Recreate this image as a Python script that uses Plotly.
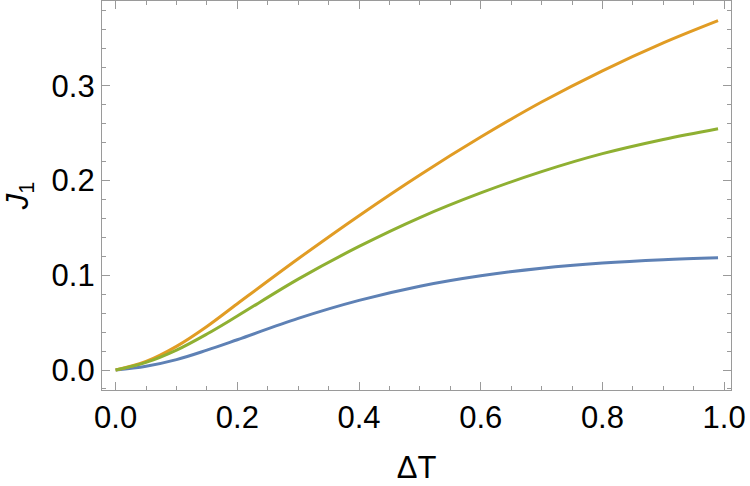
import plotly.graph_objects as go

# Data
x_vals = [0.0, 0.05, 0.1, 0.15, 0.2, 0.3, 0.4, 0.5, 0.6, 0.7, 0.8, 0.9, 0.99]
blue_vals = [0.0, 0.004, 0.011, 0.021, 0.032, 0.0545, 0.0735, 0.0885, 0.0995, 0.1075,
             0.1130, 0.1165, 0.1185]
orange_vals = [0.0, 0.009, 0.025, 0.046, 0.070, 0.1175, 0.163, 0.206, 0.246, 0.283,
               0.316, 0.3455, 0.369]
green_vals = [0.0, 0.008, 0.021, 0.038, 0.057, 0.096, 0.1305, 0.161, 0.187, 0.2095,
              0.2285, 0.2435, 0.2548]

x_ticks = [0.0, 0.2, 0.4, 0.6, 0.8, 1.0]
x_ticklabels = ["0.0", "0.2", "0.4", "0.6", "0.8", "1.0"]
y_ticks = [0.0, 0.1, 0.2, 0.3]
y_ticklabels = ["0.0", "0.1", "0.2", "0.3"]

BLUE = "#5E81B5"
ORANGE = "#E19C24"
GREEN = "#8FB032"
FRAME = "#9a9a9a"
FONT = "Liberation Sans, Arial, sans-serif"

fig = go.Figure()
for vals, col in [(blue_vals, BLUE), (orange_vals, ORANGE), (green_vals, GREEN)]:
    fig.add_trace(go.Scatter(x=x_vals, y=vals, mode="lines",
                             line=dict(color=col, width=3, shape="spline", smoothing=1.0),
                             showlegend=False, hoverinfo="skip"))

axis_common = dict(
    showgrid=False, zeroline=False, showline=True, linecolor=FRAME, linewidth=1.2,
    mirror="allticks", ticks="inside", ticklen=8, tickcolor=FRAME, tickwidth=1.2,
    tickfont=dict(family=FONT, size=31, color="black"),
)

fig.update_xaxes(
    range=[-0.0224, 1.0113], tickvals=x_ticks, ticktext=x_ticklabels,
    minor=dict(dtick=0.05, tick0=0, ticks="inside", ticklen=4, tickcolor=FRAME, tickwidth=1.2),
    title=dict(text="ΔT", font=dict(family=FONT, size=31, color="black"), standoff=22),
    **axis_common,
)
fig.update_yaxes(
    range=[-0.0211, 0.3897], tickvals=y_ticks, ticktext=y_ticklabels,
    minor=dict(dtick=0.02, tick0=0, ticks="inside", ticklen=4, tickcolor=FRAME, tickwidth=1.2),
    title=dict(text="<i>J</i><sub>1</sub>", font=dict(family=FONT, size=31, color="black"), standoff=14),
    **axis_common,
)

fig.update_layout(
    width=750, height=486,
    margin=dict(l=102, r=19, t=1, b=96),
    plot_bgcolor="white", paper_bgcolor="white",
)

fig.write_html("out.html")
